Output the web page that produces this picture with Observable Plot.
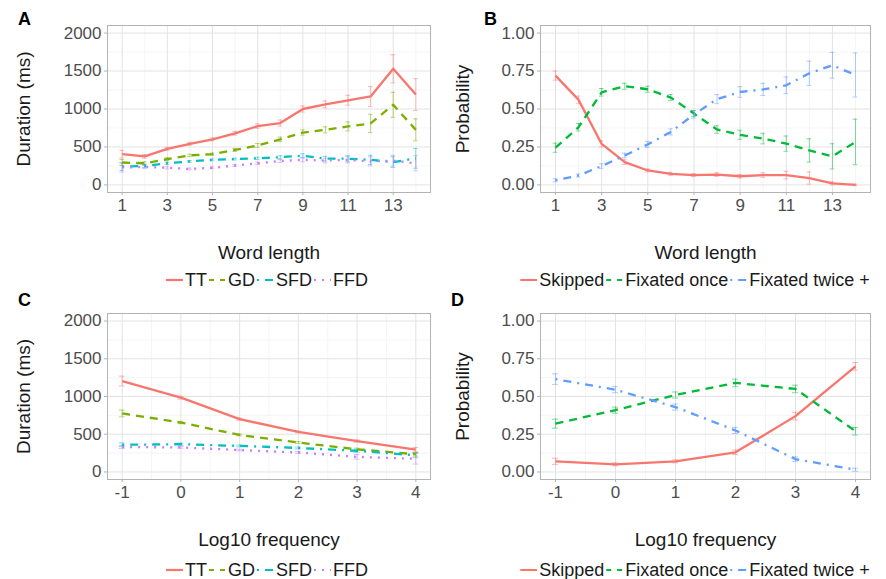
<!DOCTYPE html>
<html>
<head>
<meta charset="utf-8">
<script src="https://cdn.jsdelivr.net/npm/d3@7"></script>
<script src="https://cdn.jsdelivr.net/npm/@observablehq/plot@0.6"></script>
<style>
  html, body { margin: 0; padding: 0; background: #fff; }
  #fig { position: relative; width: 886px; height: 579px; overflow: hidden; font-family: "Liberation Sans", Arial, sans-serif; }
  .panel { position: absolute; }
  .tag { position: absolute; font-weight: bold; font-size: 18px; color: #000; }
  .legend { position: absolute; display: flex; align-items: center; white-space: nowrap; font-size: 18px; color: #1a1a1a; transform: translateX(-50%); }
  .legend .item { display: flex; align-items: center; margin-right: 2px; }
  .legend svg { margin-right: 2px; }
  svg [aria-label="x-axis label"] text, svg [aria-label="y-axis label"] text,
  svg g[aria-label="x-axis label"], svg g[aria-label="y-axis label"] { font-size: 19px; fill: #1a1a1a; }
</style>
</head>
<body>
<div id="fig"></div>
<script>
// ---------- data ----------
const wordLength = [1, 2, 3, 4, 5, 6, 7, 8, 9, 10, 11, 12, 13, 14];
const logFreq = [-1, 0, 1, 2, 3, 4];

const lengthTicks = [1, 3, 5, 7, 9, 11, 13];
const freqTicks = [-1, 0, 1, 2, 3, 4];
const durationTicks = [0, 500, 1000, 1500, 2000];
const probTicks = [0, 0.25, 0.5, 0.75, 1];

const durationNames = ["TT", "GD", "SFD", "FFD"];
const durationColors = ["#F8766D", "#7CAE00", "#00BFC4", "#C77CFF"];
const probNames = ["Skipped", "Fixated once", "Fixated twice +"];
const probColors = ["#F8766D", "#00BA38", "#619CFF"];

// Panel A: durations by word length (ms), with error half-widths
const ttA     = [405, 375, 475, 540, 600, 680, 775, 815, 1000, 1060, 1115, 1165, 1530, 1190];
const ttAErr  = [50, 25, 20, 20, 20, 25, 30, 40, 40, 45, 65, 130, 185, 210];
const gdA     = [295, 285, 340, 390, 405, 460, 520, 600, 690, 725, 770, 810, 1055, 725];
const gdAErr  = [40, 20, 20, 15, 15, 20, 25, 30, 35, 40, 60, 120, 165, 145];
const sfdA    = [240, 250, 285, 310, 330, 340, 350, 365, 385, 345, 345, 330, 300, 350];
const sfdAErr = [50, 20, 15, 12, 12, 12, 15, 20, 25, 30, 40, 60, 70, 130];
const ffdA    = [230, 235, 225, 210, 225, 255, 285, 315, 330, 320, 330, 310, 320, 285];
const ffdAErr = [60, 20, 15, 12, 12, 12, 15, 20, 25, 30, 40, 60, 70, 100];

// Panel B: probabilities by word length
const skippedB    = [0.72, 0.56, 0.27, 0.15, 0.095, 0.073, 0.065, 0.068, 0.057, 0.065, 0.065, 0.045, 0.01, 0.0];
const skippedBErr = [0.03, 0.025, 0.02, 0.015, 0.01, 0.01, 0.01, 0.012, 0.012, 0.015, 0.025, 0.04, 0.01, 0.005];
const onceB       = [0.245, 0.38, 0.61, 0.65, 0.63, 0.575, 0.47, 0.365, 0.33, 0.305, 0.272, 0.227, 0.188, 0.283];
const onceBErr    = [0.03, 0.025, 0.025, 0.02, 0.02, 0.02, 0.02, 0.025, 0.03, 0.035, 0.05, 0.077, 0.083, 0.15];
const twiceB      = [0.03, 0.062, 0.124, 0.194, 0.267, 0.349, 0.464, 0.565, 0.612, 0.629, 0.656, 0.735, 0.788, 0.724];
const twiceBErr   = [0.01, 0.01, 0.015, 0.015, 0.02, 0.02, 0.025, 0.03, 0.035, 0.04, 0.055, 0.08, 0.085, 0.145];

// Panel C: durations by log10 frequency (ms)
const ttC     = [1205, 985, 700, 530, 410, 295];
const ttCErr  = [65, 20, 15, 12, 15, 30];
const gdC     = [775, 655, 490, 390, 300, 235];
const gdCErr  = [45, 15, 12, 12, 15, 25];
const sfdC    = [360, 368, 345, 318, 280, 220];
const sfdCErr = [25, 15, 12, 12, 20, 30];
const ffdC    = [330, 325, 290, 258, 200, 175];
const ffdCErr = [20, 12, 10, 12, 30, 70];

// Panel D: probabilities by log10 frequency
const skippedD    = [0.07, 0.05, 0.07, 0.13, 0.37, 0.70];
const skippedDErr = [0.02, 0.01, 0.01, 0.015, 0.025, 0.025];
const onceD       = [0.32, 0.41, 0.51, 0.59, 0.55, 0.27];
const onceDErr    = [0.03, 0.02, 0.02, 0.025, 0.025, 0.025];
const twiceD      = [0.615, 0.545, 0.43, 0.275, 0.085, 0.015];
const twiceDErr   = [0.035, 0.02, 0.02, 0.02, 0.015, 0.01];

// ---------- styling ----------
const FONT = '"Liberation Sans", Arial, sans-serif';
const dashes4 = [null, "8,6", "2,6,8,6", "2,6"];
const dashes3 = [null, "8,6", "2,6,8,6"];
const legendDash4 = [null, "5,6", "2,6,8,6", "2,6"];
const legendDash3 = [null, "5,6", "2,6,8,6"];

function minor(ticks, domain) {
  const st = ticks[1] - ticks[0];
  const m = [ticks[0] - st / 2, ...ticks.map(t => t + st / 2)];
  return m.filter(v => v >= domain[0] && v <= domain[1]);
}

function panel(o) {
  const data = o.series.flatMap(s => o.x.map((x, i) => ({
    x, y: s.values[i], lo: s.values[i] - s.err[i], hi: s.values[i] + s.err[i], name: s.name
  })));
  const names = o.series.map(s => s.name);
  const yd = o.yDomain;
  const minorY = minor(o.yTicks, yd);
  const minorX = minor(o.xTicks, o.xDomain);
  const cap = o.cap;
  return Plot.plot({
    width: 443, height: o.height,
    marginLeft: o.ml, marginRight: o.mr, marginTop: o.mt, marginBottom: o.mb,
    style: {fontFamily: FONT, fontSize: "17px", background: "transparent", overflow: "visible"},
    x: {domain: o.xDomain},
    y: {domain: yd},
    color: {domain: names, range: o.colors},
    marks: [
      Plot.gridY(minorY, {stroke: "#efefef", strokeOpacity: 1, strokeWidth: 0.6}),
      Plot.gridX(minorX, {stroke: "#efefef", strokeOpacity: 1, strokeWidth: 0.6}),
      Plot.gridY(o.yTicks, {stroke: "#e3e3e3", strokeOpacity: 1, strokeWidth: 1}),
      Plot.gridX(o.xTicks, {stroke: "#e3e3e3", strokeOpacity: 1, strokeWidth: 1}),
      Plot.ruleX(data, {x: "x", y1: "lo", y2: "hi", stroke: "name", strokeOpacity: 0.5, strokeWidth: 1}),
      Plot.ruleY(data, {y: "lo", x1: d => d.x - cap, x2: d => d.x + cap, stroke: "name", strokeOpacity: 0.5, strokeWidth: 1}),
      Plot.ruleY(data, {y: "hi", x1: d => d.x - cap, x2: d => d.x + cap, stroke: "name", strokeOpacity: 0.5, strokeWidth: 1}),
      ...o.series.map((s, k) => Plot.line(data.filter(d => d.name === s.name), {
        x: "x", y: "y", stroke: "name", strokeWidth: 2.3,
        strokeDasharray: o.dashes[k] || undefined, strokeLinecap: "butt"
      })),
      Plot.frame({stroke: "#b3b3b3", strokeWidth: 1}),
      Plot.axisX(o.xTicks, {
        tickSize: 3, tickPadding: 3, stroke: "#b3b3b3", fill: "#4d4d4d", tickFormat: fmtInt,
        label: o.xLabel, labelAnchor: "center", labelOffset: o.xLabelOffset, labelArrow: "none"
      }),
      Plot.axisY(o.yTicks, {
        tickSize: 3, tickPadding: 3, stroke: "#b3b3b3", fill: "#4d4d4d", tickFormat: o.yFormat,
        label: o.yLabel, labelAnchor: "center", labelOffset: o.yLabelOffset, labelArrow: "none"
      })
    ]
  });
}

function legend(names, colors, dashes, cx, cy) {
  const div = document.createElement("div");
  div.className = "legend";
  div.style.left = cx + "px";
  div.style.top = (cy - 10) + "px";
  div.style.height = "20px";
  names.forEach((n, i) => {
    const item = document.createElement("span");
    item.className = "item";
    const dash = dashes[i] ? `stroke-dasharray="${dashes[i]}"` : "";
    item.innerHTML = `<svg width="17" height="10"><line x1="0" x2="17" y1="5" y2="5" stroke="${colors[i]}" stroke-width="2.2" ${dash}/></svg><span>${n}</span>`;
    div.appendChild(item);
  });
  return div;
}

const fig = document.getElementById("fig");
function place(node, left, top) {
  const d = document.createElement("div");
  d.className = "panel";
  d.style.left = left + "px";
  d.style.top = top + "px";
  d.appendChild(node);
  fig.appendChild(d);
}
function tag(t, left, top) {
  const d = document.createElement("div");
  d.className = "tag";
  d.textContent = t;
  d.style.left = left + "px";
  d.style.top = top + "px";
  fig.appendChild(d);
}

function fmtInt(d) { return String(d); }
const fmtProb = d3.format(".2f");

// A
place(panel({
  x: wordLength, xTicks: lengthTicks, xDomain: [0.35, 14.65],
  yTicks: durationTicks, yDomain: [-100, 2100], yFormat: fmtInt,
  xLabel: "Word length", yLabel: "Duration (ms)",
  series: [
    {name: "TT", values: ttA, err: ttAErr},
    {name: "GD", values: gdA, err: gdAErr},
    {name: "SFD", values: sfdA, err: sfdAErr},
    {name: "FFD", values: ffdA, err: ffdAErr}
  ],
  colors: durationColors, dashes: dashes4, cap: 0.1,
  height: 290, ml: 107, mr: 13, mt: 25, mb: 98, xLabelOffset: 66, yLabelOffset: 91
}), 0, 0);

// B
place(panel({
  x: wordLength, xTicks: lengthTicks, xDomain: [0.35, 14.65],
  yTicks: probTicks, yDomain: [-0.05, 1.05], yFormat: fmtProb,
  xLabel: "Word length", yLabel: "Probability",
  series: [
    {name: "Skipped", values: skippedB, err: skippedBErr},
    {name: "Fixated once", values: onceB, err: onceBErr},
    {name: "Fixated twice +", values: twiceB, err: twiceBErr}
  ],
  colors: probColors, dashes: dashes3, cap: 0.1,
  height: 290, ml: 97, mr: 16, mt: 25, mb: 98, xLabelOffset: 66, yLabelOffset: 85
}), 443, 0);

// C
place(panel({
  x: logFreq, xTicks: freqTicks, xDomain: [-1.25, 4.25],
  yTicks: durationTicks, yDomain: [-100, 2100], yFormat: fmtInt,
  xLabel: "Log10 frequency", yLabel: "Duration (ms)",
  series: [
    {name: "TT", values: ttC, err: ttCErr},
    {name: "GD", values: gdC, err: gdCErr},
    {name: "SFD", values: sfdC, err: sfdCErr},
    {name: "FFD", values: ffdC, err: ffdCErr}
  ],
  colors: durationColors, dashes: dashes4, cap: 0.05,
  height: 289, ml: 107, mr: 13, mt: 23, mb: 100, xLabelOffset: 66, yLabelOffset: 91
}), 0, 290);

// D
place(panel({
  x: logFreq, xTicks: freqTicks, xDomain: [-1.25, 4.25],
  yTicks: probTicks, yDomain: [-0.05, 1.05], yFormat: fmtProb,
  xLabel: "Log10 frequency", yLabel: "Probability",
  series: [
    {name: "Skipped", values: skippedD, err: skippedDErr},
    {name: "Fixated once", values: onceD, err: onceDErr},
    {name: "Fixated twice +", values: twiceD, err: twiceDErr}
  ],
  colors: probColors, dashes: dashes3, cap: 0.05,
  height: 289, ml: 97, mr: 16, mt: 23, mb: 100, xLabelOffset: 66, yLabelOffset: 85
}), 443, 290);

tag("A", 18, 9);
tag("B", 484, 9);
tag("C", 18, 290);
tag("D", 451, 290);

fig.appendChild(legend(durationNames, durationColors, legendDash4, 268, 280));
fig.appendChild(legend(probNames, probColors, legendDash3, 696, 280));
fig.appendChild(legend(durationNames, durationColors, legendDash4, 268, 570));
fig.appendChild(legend(probNames, probColors, legendDash3, 696, 570));
</script>
</body>
</html>
